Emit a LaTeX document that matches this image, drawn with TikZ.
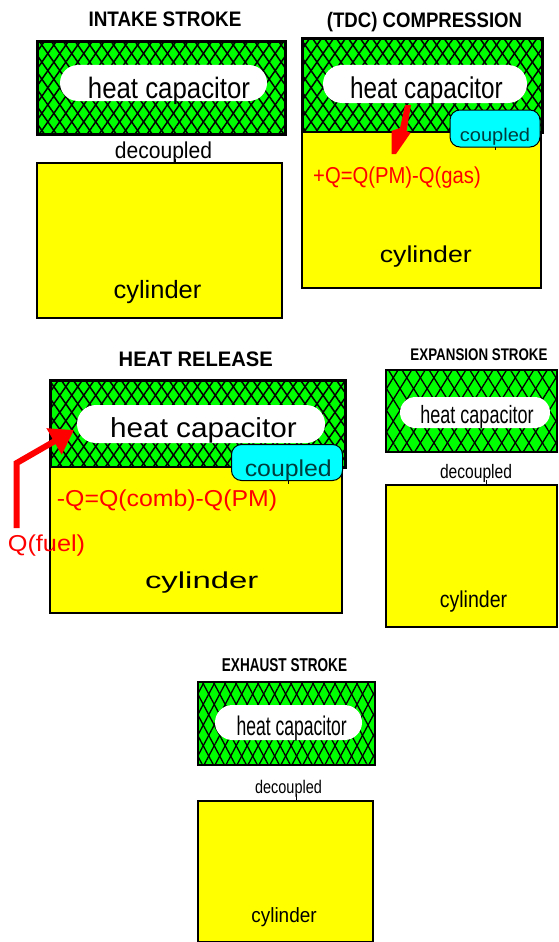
\documentclass[tikz,border=0pt]{standalone}
\usepackage{fontspec}
\usepackage{graphicx}
\setmainfont{Liberation Sans}
\usetikzlibrary{patterns.meta,arrows.meta}
\definecolor{cgreen}{RGB}{0,255,0}
\definecolor{cyellow}{RGB}{255,255,0}
\definecolor{ccyan}{RGB}{0,255,255}
\definecolor{cred}{RGB}{255,0,0}
\definecolor{cteal}{RGB}{0,60,60}
\newcommand\tx[3]{\fontsize{#1}{#1}\selectfont\scalebox{#2}[1]{#3}}
\begin{document}
\begin{tikzpicture}[x=1pt,y=-1pt,
  gbox/.style n args={3}{fill=cgreen, inner sep=0, outer sep=0,
    postaction={pattern={Lines[angle=#1,distance=#2pt,line width=#3pt]},pattern color=black},
    postaction={pattern={Lines[angle=-#1,distance=#2pt,line width=#3pt]},pattern color=black},
    postaction={draw=black}},
  ybox/.style={draw=black, fill=cyellow, inner sep=0, outer sep=0},
  oval/.style={fill=white, inner sep=0, outer sep=0},
  cbox/.style={fill=ccyan, draw=black, line width=1pt, inner sep=0, rounded corners=10pt},
  txt/.style={inner sep=0, anchor=base},
  ttl/.style={txt, font=\bfseries},
  rtxt/.style={txt, text=cred},
  ctxt/.style={txt, text=cteal},
  tick/.style={draw=black, line width=1pt},
  redarrow/.style={draw=cred, line width=#1, line join=miter}
]
\useasboundingbox (0,0) rectangle (558,942);

% ---------- Panel 1: intake stroke ----------
\node[ttl] (t1) at (165,27) {\tx{21}{0.90}{INTAKE STROKE}};
\node[gbox={55}{9.8}{1.5}, line width=3pt, minimum width=248pt, minimum height=92pt] (g1) at (161,88) {};
\node[oval, rounded corners=18pt, minimum width=207pt, minimum height=36pt] (h1) at (163.5,83) {};
\node[txt] (h1t) at (169,98) {\tx{29.5}{0.875}{heat capacitor}};
\node[ybox, line width=2.5pt, minimum width=245pt, minimum height=155pt] (y1) at (159.5,240.5) {};
\node[txt] (d1) at (163.5,158) {\tx{23}{0.915}{decoupled}};
\coordinate (k1a) at (175,159);
\coordinate (k1b) at (175,164);
\draw[tick] (k1a) -- (k1b);
\node[txt] (c1) at (157.5,298) {\tx{25}{1.02}{cylinder}};

% ---------- Panel 2: TDC compression ----------
\node[ttl] (t2) at (424.5,28) {\tx{21}{0.885}{(TDC) COMPRESSION}};
\node[gbox={55}{9.8}{1.5}, line width=3pt, minimum width=240pt, minimum height=93pt] (g2) at (422,85.5) {};
\node[ybox, line width=2.5pt, minimum width=239pt, minimum height=156pt] (y2) at (421.5,210) {};
\node[oval, rounded corners=19pt, minimum width=204pt, minimum height=38pt] (h2) at (425,84) {};
\node[txt] (h2t) at (426.5,98) {\tx{30}{0.81}{heat capacitor}};
\node[cbox, minimum width=90pt, minimum height=37pt] (cp2) at (495,128.5) {};
\node[ctxt] (cp2t) at (495,141.7) {\tx{18.4}{1.09}{coupled}};
\coordinate (k2a) at (495,147);
\coordinate (k2b) at (495,150);
\draw[tick] (k2a) -- (k2b);
\coordinate (a2a) at (405,105);
\coordinate (a2b) at (411,105);
\coordinate (a2c) at (406.5,131);
\coordinate (a2d) at (410.5,133);
\coordinate (a2e) at (396,154);
\coordinate (a2f) at (391.5,154);
\coordinate (a2g) at (391.5,131);
\coordinate (a2h) at (400,128);
\fill[cred] (a2a) -- (a2b) -- (a2c) -- (a2d) -- (a2e) -- (a2f) -- (a2g) -- (a2h) -- cycle;
\node[rtxt] (q2) at (397,183) {\tx{23}{0.88}{+Q=Q(PM)-Q(gas)}};
\node[txt] (c2) at (425.8,262) {\tx{23}{1.16}{cylinder}};

% ---------- Panel 3: heat release ----------
\node[ttl] (t3) at (195.8,366.7) {\tx{21}{0.96}{HEAT RELEASE}};
\node[gbox={55}{9.8}{1.5}, line width=3pt, minimum width=295pt, minimum height=87pt] (g3) at (197.5,423.5) {};
\node[ybox, line width=2.5pt, minimum width=292pt, minimum height=146pt] (y3) at (196,540) {};
\node[oval, rounded corners=19pt, minimum width=248pt, minimum height=38pt] (h3) at (201,424) {};
\node[txt] (h3t) at (203.5,437) {\tx{27.5}{1.08}{heat capacitor}};
\node[cbox, minimum width=111pt, minimum height=36pt] (cp3) at (287,462.5) {};
\node[ctxt] (cp3t) at (288.3,476.7) {\tx{23}{1.08}{coupled}};
\coordinate (k3a) at (288.3,480);
\coordinate (k3b) at (288.3,483.5);
\draw[tick] (k3a) -- (k3b);
\node[rtxt] (q3) at (167,506) {\tx{23}{1.08}{-Q=Q(comb)-Q(PM)}};
\node[rtxt] (f3) at (46.5,551.7) {\tx{23}{1.1}{Q(fuel)}};
\coordinate (f0) at (16.7,528);
\coordinate (f1) at (16.7,463);
\coordinate (f2) at (74,430);
\draw[redarrow=6pt, -{Triangle[length=23pt,width=29pt]}] (f0) -- (f1) -- (f2);
\node[txt] (c3) at (201.7,588.3) {\tx{23}{1.43}{cylinder}};

% ---------- Panel 4: expansion stroke ----------
\node[ttl] (t4) at (479,360.7) {\tx{16.8}{0.795}{EXPANSION STROKE}};
\node[gbox={58}{11.5}{1.3}, line width=2pt, minimum width=171pt, minimum height=82pt] (g4) at (471,411) {};
\node[oval, rounded corners=15.5pt, minimum width=150pt, minimum height=31pt] (h4) at (475,412.5) {};
\node[txt] (h4t) at (477,423) {\tx{25}{0.72}{heat capacitor}};
\node[txt] (d4) at (476,478) {\tx{19.5}{0.8}{decoupled}};
\coordinate (k4a) at (486,480);
\coordinate (k4b) at (486,485);
\draw[tick] (k4a) -- (k4b);
\node[ybox, line width=2pt, minimum width=171pt, minimum height=142pt] (y4) at (471,556) {};
\node[txt] (c4) at (473.5,607) {\tx{23}{0.85}{cylinder}};

% ---------- Panel 5: exhaust stroke ----------
\node[ttl] (t5) at (284.5,671.7) {\tx{18.6}{0.73}{EXHAUST STROKE}};
\node[gbox={62}{9.7}{1.3}, line width=2pt, minimum width=177pt, minimum height=83pt] (g5) at (286.5,723.5) {};
\node[oval, rounded corners=17.5pt, minimum width=147pt, minimum height=35pt] (h5) at (288.5,722.5) {};
\node[txt] (h5t) at (291.7,735) {\tx{27}{0.65}{heat capacitor}};
\node[txt] (d5) at (288.5,793) {\tx{18.3}{0.79}{decoupled}};
\coordinate (k5a) at (296,794);
\coordinate (k5b) at (296,800);
\draw[tick] (k5a) -- (k5b);
\node[ybox, line width=2pt, minimum width=175pt, minimum height=141pt] (y5) at (285.5,871) {};
\node[txt] (c5) at (284,922) {\tx{20.6}{0.92}{cylinder}};
\end{tikzpicture}
\end{document}
